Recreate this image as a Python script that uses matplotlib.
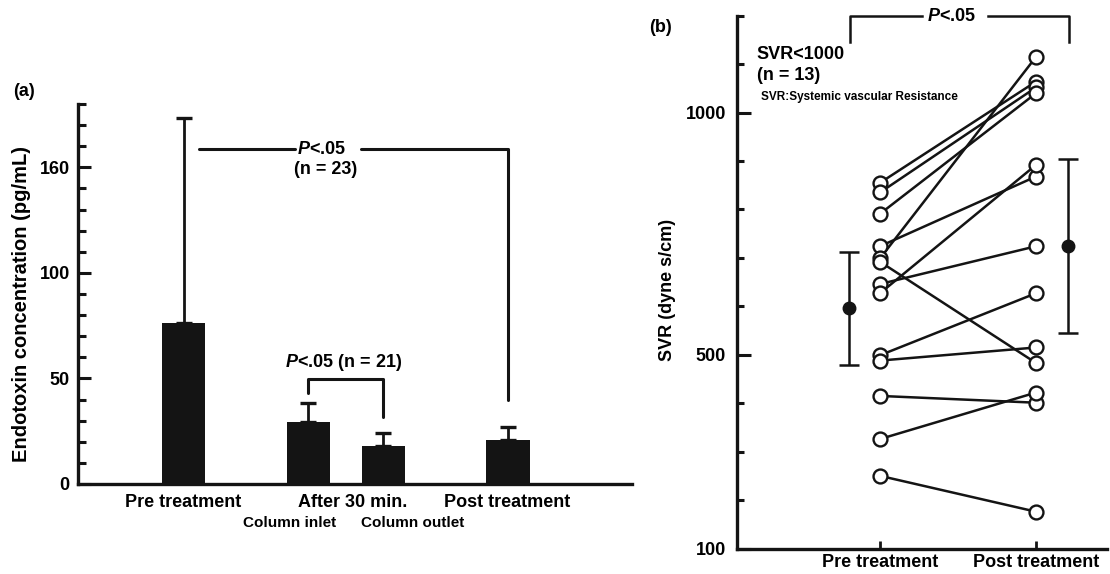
import matplotlib
matplotlib.use('Agg')
import matplotlib.pyplot as plt
import numpy as np

plt.rcParams['font.family'] = ['Liberation Sans', 'DejaVu Sans']
plt.rcParams['font.weight'] = 'bold'
plt.rcParams['mathtext.fontset'] = 'custom'
plt.rcParams['mathtext.it'] = 'Liberation Sans:italic:bold'
plt.rcParams['mathtext.rm'] = 'Liberation Sans:bold'
plt.rcParams['mathtext.bf'] = 'Liberation Sans:bold'

# ---------------- data ----------------
# panel (a): endotoxin concentration (pg/mL)
groups_a = ['Pre treatment', 'Column inlet', 'Column outlet', 'Post treatment']
means_a = [76.2, 29.5, 18.0, 20.9]
sd_a = [97.1, 9.0, 6.0, 6.3]
main_labels_a = ['Pre treatment', 'After 30 min.', 'Post treatment']
sub_labels_a = ['Column inlet', 'Column outlet']
yticks_a = [0, 50, 100, 150]
yticklabels_a = ['0', '50', '100', '160']

# panel (b): SVR paired values (dyne s/cm)
svr_pre = [855, 835, 791, 724, 699, 692, 646, 627, 499, 488, 415, 326, 250]
svr_post = [1064, 1052, 1040, 868, 1115, 483, 724, 892, 627, 515, 401, 422, 176]
svr_mean = [596, 724]
svr_sd = [117, 180]
xlabels_b = ['Pre treatment', 'Post treatment']
yticks_b = [100, 500, 1000]

K = '#141414'
W, H = 1110, 574
fig = plt.figure(figsize=(W / 100, H / 100), dpi=100)


def rect(l, r, b, t):
    return [l / W, (H - b) / H, (r - l) / W, (b - t) / H]


# ---------------- panel (a) ----------------
ax1 = fig.add_axes(rect(78, 632, 484, 104))
xa = [0, 1.0, 1.6, 2.6]
ax1.set_xlim(-0.845, 3.59)
ax1.set_ylim(0, 180)
ax1.bar(xa, means_a, width=0.35, color=K, zorder=2)
ax1.errorbar(xa, means_a, yerr=[np.zeros(len(means_a)), sd_a], fmt='none',
             ecolor=K, elinewidth=2.0, capsize=6, capthick=2.4, zorder=3)
for s in ['top', 'right']:
    ax1.spines[s].set_visible(False)
for s in ['left', 'bottom']:
    ax1.spines[s].set_linewidth(2.4)
    ax1.spines[s].set_color(K)
ax1.set_yticks(yticks_a)
ax1.set_yticklabels(yticklabels_a, fontsize=13, fontweight='bold')
ax1.set_yticks(np.arange(0, 181, 10), minor=True)
ax1.tick_params(axis='y', which='major', direction='in', length=9, width=2.2, pad=6, color=K)
ax1.tick_params(axis='y', which='minor', direction='in', length=6, width=2.2, color=K)
ax1.set_xticks([0, 1.35, 2.59])
ax1.set_xticklabels(main_labels_a, fontsize=13, fontweight='bold')
ax1.tick_params(axis='x', length=0, pad=7)
trans = ax1.get_xaxis_transform()
ax1.text(0.85, -0.103, sub_labels_a[0], transform=trans, ha='center', va='center',
         fontsize=11, fontweight='bold')
ax1.text(1.83, -0.103, sub_labels_a[1], transform=trans, ha='center', va='center',
         fontsize=11, fontweight='bold')

# brackets
lw_b = 2.2
ax1.plot([0.12, 0.89], [158.8, 158.8], color=K, lw=lw_b, solid_capstyle='round')
ax1.plot([1.42, 2.6, 2.6], [158.8, 158.8, 39.8], color=K, lw=lw_b, solid_capstyle='round')
ax1.text(1.105, 158.5, r'$\mathit{P}$<.05', ha='center', va='center', fontsize=13, fontweight='bold')
ax1.text(1.14, 148.8, '(n = 23)', ha='center', va='center', fontsize=13, fontweight='bold')
ax1.plot([1.0, 1.0, 1.6, 1.6], [43.3, 49.8, 49.8, 31.6], color=K, lw=lw_b, solid_capstyle='round')
ax1.text(1.28, 57.5, r'$\mathit{P}$<.05 (n = 21)', ha='center', va='center', fontsize=13, fontweight='bold')

fig.text(22 / W, 1 - 304 / H, 'Endotoxin concentration (pg/mL)', rotation=90,
         ha='center', va='center', fontsize=14.5, fontweight='bold')
fig.text(24 / W, 1 - 91 / H, '(a)', ha='center', va='center', fontsize=13, fontweight='bold')

# ---------------- panel (b) ----------------
ax2 = fig.add_axes(rect(737, 1107, 548.5, 15.7))
ax2.set_xlim(0.083, 2.455)
ax2.set_ylim(100, 1200)
for a, b in zip(svr_pre, svr_post):
    ax2.plot([1, 2], [a, b], color=K, lw=1.8, zorder=2)
ax2.plot([1] * len(svr_pre), svr_pre, 'o', mfc='white', mec=K, ms=10, mew=1.7, zorder=3, ls='none')
ax2.plot([2] * len(svr_post), svr_post, 'o', mfc='white', mec=K, ms=10, mew=1.7, zorder=3, ls='none')
ax2.errorbar([0.80, 2.205], svr_mean, yerr=svr_sd, fmt='o', color=K, ms=9,
             capsize=7, elinewidth=1.8, capthick=1.8, zorder=3)
for s in ['top', 'right']:
    ax2.spines[s].set_visible(False)
for s in ['left', 'bottom']:
    ax2.spines[s].set_linewidth(2.4)
    ax2.spines[s].set_color(K)
ax2.set_yticks(yticks_b)
ax2.set_yticklabels([str(v) for v in yticks_b], fontsize=13, fontweight='bold')
ax2.set_yticks(np.arange(100, 1201, 100), minor=True)
ax2.tick_params(axis='y', which='major', direction='in', length=10, width=2.2, pad=8, color=K)
ax2.tick_params(axis='y', which='minor', direction='in', length=5, width=2.2, color=K)
ax2.set_xticks([1, 2])
ax2.set_xticklabels(xlabels_b, fontsize=13, fontweight='bold')
ax2.tick_params(axis='x', direction='in', length=6, width=2.0, pad=4, color=K)

ax2.plot([0.806, 0.806, 1.27], [1146, 1200, 1200], color=K, lw=1.8, clip_on=False)
ax2.plot([1.69, 2.212, 2.212], [1200, 1200, 1146], color=K, lw=1.8, clip_on=False)
ax2.text(1.46, 1198, r'$\mathit{P}$<.05', ha='center', va='center', fontsize=13,
         fontweight='bold', clip_on=False)
ax2.text(0.21, 1119, 'SVR<1000', ha='left', va='center', fontsize=13, fontweight='bold')
ax2.text(0.21, 1077, '(n = 13)', ha='left', va='center', fontsize=13, fontweight='bold')
ax2.text(0.24, 1033, 'SVR:Systemic vascular Resistance', ha='left', va='center',
         fontsize=8.5, fontweight='bold')

fig.text(667 / W, 1 - 290 / H, 'SVR (dyne s/cm)', rotation=90, ha='center', va='center',
         fontsize=13, fontweight='bold')
fig.text(660 / W, 1 - 28 / H, '(b)', ha='center', va='center', fontsize=13, fontweight='bold')

fig.savefig('out.png', dpi=100, facecolor='white')
